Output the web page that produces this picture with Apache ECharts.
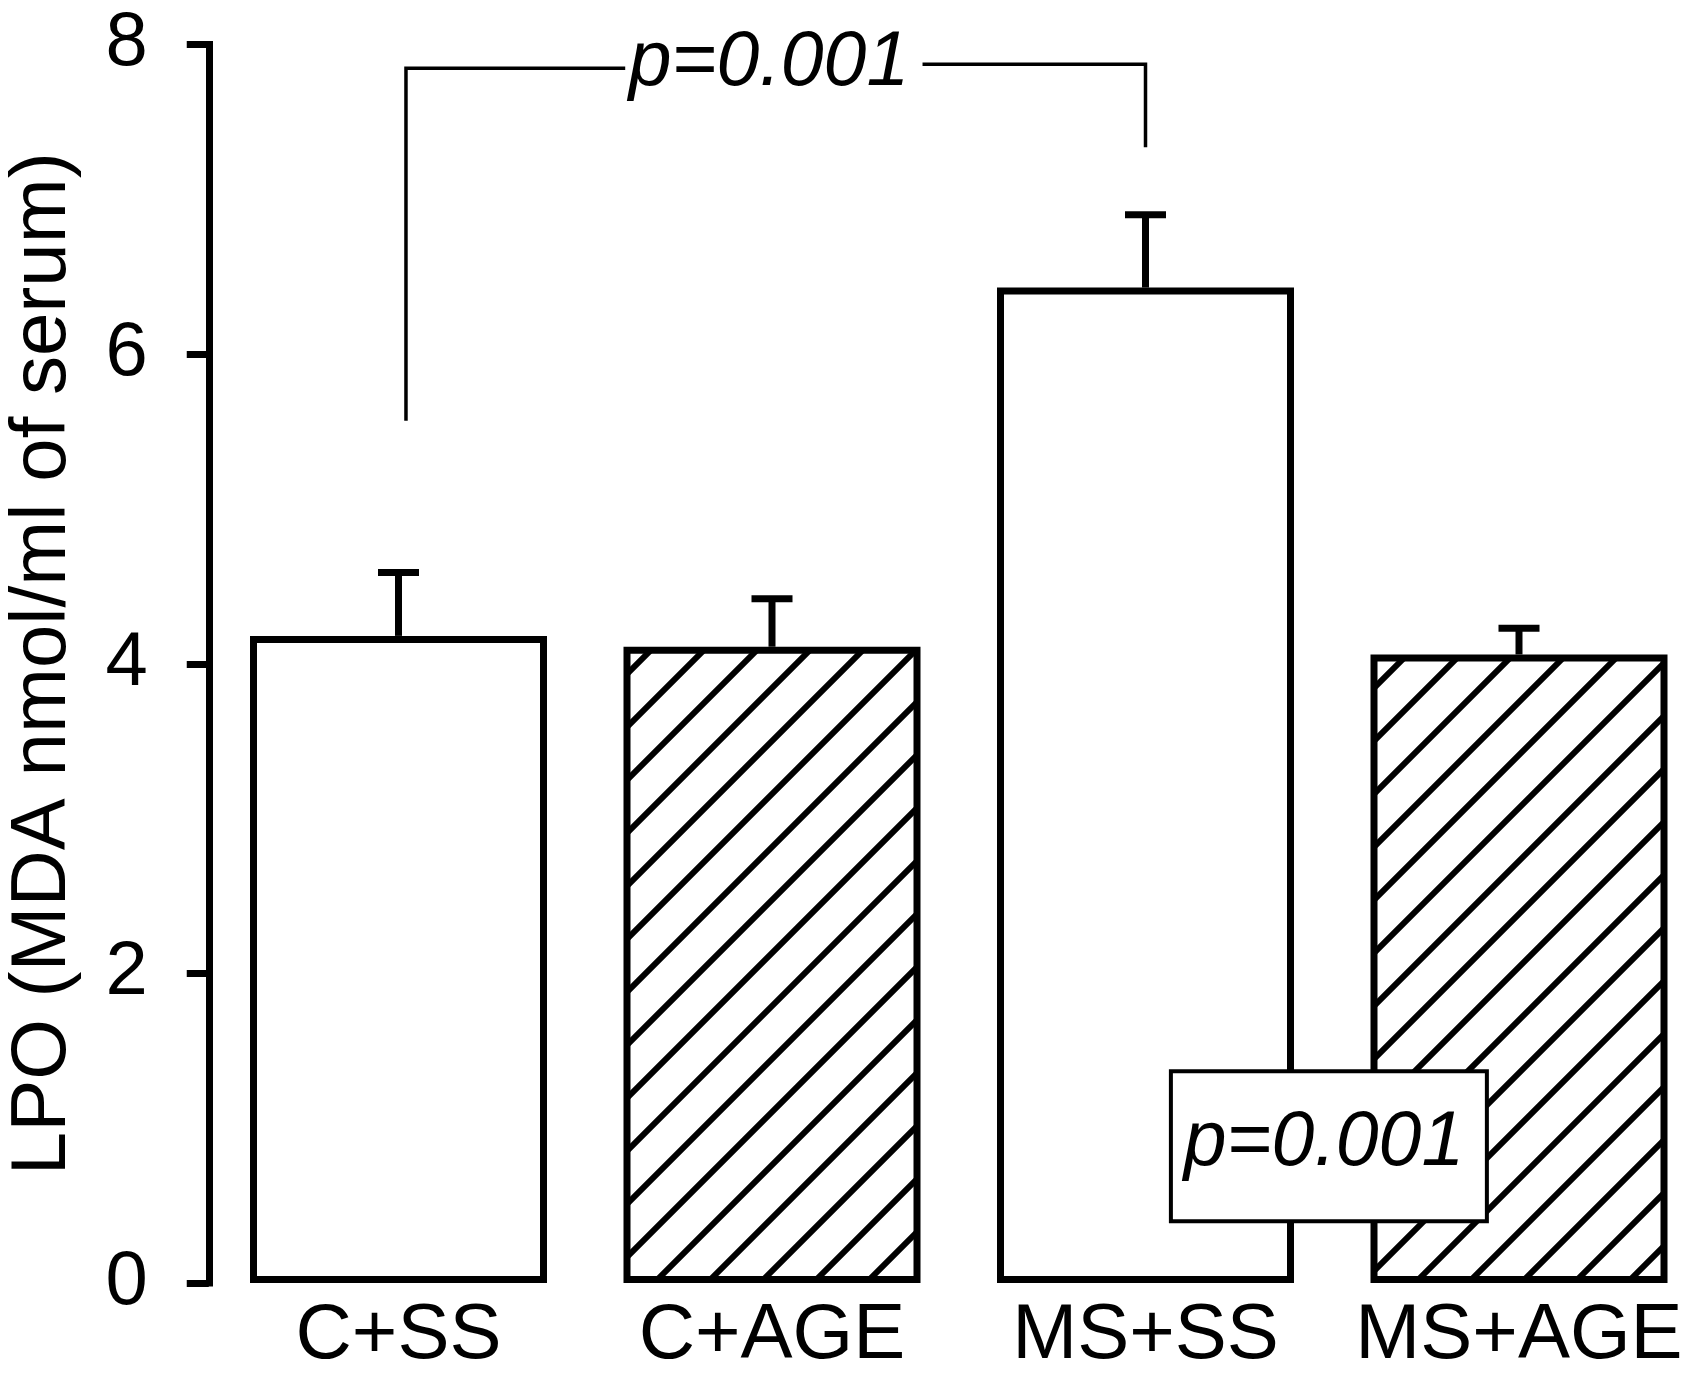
<!DOCTYPE html>
<html><head><meta charset="utf-8">
<script src="https://cdn.jsdelivr.net/npm/echarts@6.0.0/dist/echarts.min.js"></script>
<style>html,body{margin:0;padding:0;background:#fff}#c{width:1682px;height:1374px}</style>
</head><body><div id="c"></div>
<script>
// ---- data ----
const categories = ['C+SS', 'C+AGE', 'MS+SS', 'MS+AGE'];
const meanValues = [4.18, 4.11, 6.43, 4.06];
const errorTops = [4.59, 4.42, 6.90, 4.23];
const yTicks = [0, 2, 4, 6, 8];
const hatched = [false, true, false, true];
const hatchPhase = [0, 29, 0, 48];
const yAxisTitle = 'LPO (MDA nmol/ml of serum)';
const pText = 'p=0.001';
// annotation positions in data units (x = category index, y = axis value)
const bracketPaths = [
  [[0.02, 5.57], [0.02, 7.846], [0.607, 7.846]],
  [[1.403, 7.872], [2.0, 7.872], [2.0, 7.336]]
];
const bracketLabel = [0.992, 7.875];
const boxCorners = [[2.068, 1.368], [2.914, 0.399]];
const boxLabel = [2.478, 0.898];

const FONT = '"Liberation Sans", Arial, sans-serif';

function makeHatch(phase) {
  const s = 53;
  const cv = document.createElement('canvas');
  cv.width = s; cv.height = s;
  const ctx = cv.getContext('2d');
  ctx.fillStyle = '#fff';
  ctx.fillRect(0, 0, s, s);
  ctx.strokeStyle = '#000';
  ctx.lineWidth = 6;
  for (let k = -1; k <= 2; k++) {
    const c = phase + k * s;
    ctx.beginPath();
    ctx.moveTo(c + 30, -30);
    ctx.lineTo(-30, c + 30);
    ctx.stroke();
  }
  return { image: cv, repeat: 'repeat' };
}

const chart = echarts.init(document.getElementById('c'), null, { renderer: 'canvas' });

const barData = meanValues.map((v, i) => ({
  value: v,
  itemStyle: {
    color: hatched[i] ? makeHatch(hatchPhase[i]) : '#fff',
    borderColor: '#000',
    borderWidth: 7
  }
}));

chart.setOption({
  animation: false,
  backgroundColor: '#fff',
  grid: { left: 211.75, top: 44.5, width: 1494, height: 1238.5, containLabel: false, outerBoundsMode: 'none' },
  xAxis: [
    {
      type: 'category', data: categories, gridIndex: 0,
      axisLine: { show: false }, axisTick: { show: false }, splitLine: { show: false },
      axisLabel: { interval: 0, fontSize: 78, fontFamily: FONT, color: '#000', margin: 14 }
    },
    { type: 'value', min: -0.5, max: 3.5, gridIndex: 0, show: false }
  ],
  yAxis: [{
    type: 'value', min: yTicks[0], max: yTicks[yTicks.length - 1], interval: 2, offset: 3,
    axisLine: { show: true, onZero: false, lineStyle: { color: '#000', width: 7, cap: 'square' } },
    axisTick: { show: true, length: 22, lineStyle: { color: '#000', width: 7 } },
    splitLine: { show: false },
    axisLabel: { fontSize: 76, fontFamily: FONT, color: '#000', margin: 61 },
    name: yAxisTitle, nameLocation: 'middle', nameGap: 126,
    nameTextStyle: { fontSize: 78, fontFamily: FONT, color: '#000' }
  }],
  series: [
    {
      type: 'bar', xAxisIndex: 0, yAxisIndex: 0, barWidth: 297, z: 2,
      data: barData
    },
    {
      type: 'custom', xAxisIndex: 0, yAxisIndex: 0, z: 3,
      encode: { x: 0, y: [1, 2] },
      data: categories.map((c, i) => [i, meanValues[i], errorTops[i]]),
      renderItem: function (params, api) {
        const base = api.coord([api.value(0), api.value(1)]);
        const top = api.coord([api.value(0), api.value(2)]);
        return {
          type: 'group', children: [
            { type: 'line', shape: { x1: base[0], y1: base[1], x2: top[0], y2: top[1] }, style: { stroke: '#000', lineWidth: 7 } },
            { type: 'line', shape: { x1: top[0] - 20.5, y1: top[1], x2: top[0] + 20.5, y2: top[1] }, style: { stroke: '#000', lineWidth: 7 } }
          ]
        };
      }
    },
    {
      type: 'custom', xAxisIndex: 1, yAxisIndex: 0, z: 4,
      encode: { x: 0, y: 1 },
      data: [bracketLabel],
      renderItem: function (params, api) {
        const children = [];
        bracketPaths.forEach(path => {
          children.push({
            type: 'polyline',
            shape: { points: path.map(p => api.coord(p)) },
            style: { stroke: '#000', lineWidth: 3.5, fill: null }
          });
        });
        const t1 = api.coord(bracketLabel);
        children.push({
          type: 'text',
          style: { text: pText, x: t1[0], y: t1[1], align: 'center', verticalAlign: 'middle',
            fontSize: 77, fontStyle: 'italic', fontFamily: FONT, fill: '#000' }
        });
        const a = api.coord(boxCorners[0]);
        const b = api.coord(boxCorners[1]);
        children.push({
          type: 'rect',
          shape: { x: a[0], y: a[1], width: b[0] - a[0], height: b[1] - a[1] },
          style: { fill: '#fff', stroke: '#000', lineWidth: 4 }
        });
        const t2 = api.coord(boxLabel);
        children.push({
          type: 'text',
          style: { text: pText, x: t2[0], y: t2[1], align: 'center', verticalAlign: 'middle',
            fontSize: 77, fontStyle: 'italic', fontFamily: FONT, fill: '#000' }
        });
        return { type: 'group', children: children };
      }
    }
  ]
});
</script>
</body></html>
